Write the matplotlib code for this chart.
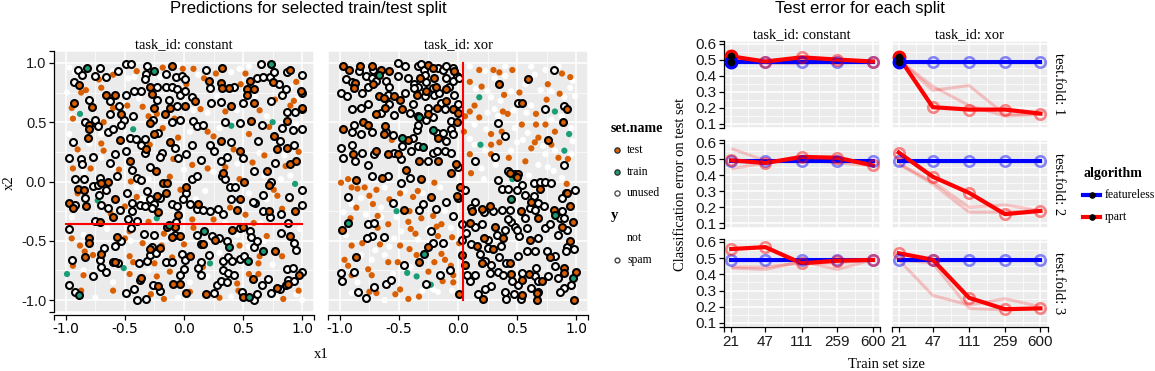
import math
import matplotlib
matplotlib.use("Agg")
import matplotlib.pyplot as plt

W, H = 1155, 371
fig = plt.figure(figsize=(W / 100, H / 100), dpi=100)
SERIF = ['Liberation Serif', 'DejaVu Serif']
SANS = ['Liberation Sans', 'DejaVu Sans']

# ---------------- right chart data ----------------
train_sizes = [21, 47, 111, 259, 600]
featureless_err = [0.487, 0.487, 0.487, 0.487, 0.487]

rpart_constant_f1 = [0.522, 0.490, 0.516, 0.502, 0.490]
rpart_constant_f1_a = [0.490, 0.480, 0.478, 0.485, 0.490]
rpart_constant_f1_b = [0.500, 0.487, 0.490, 0.480, 0.490]
rpart_constant_f2 = [0.492, 0.475, 0.513, 0.508, 0.460]
rpart_constant_f2_a = [0.565, 0.490, 0.490, 0.490, 0.470]
rpart_constant_f2_b = [0.440, 0.475, 0.500, 0.475, 0.460]
rpart_constant_f3 = [0.556, 0.568, 0.468, 0.484, 0.489]
rpart_constant_f3_a = [0.440, 0.430, 0.480, 0.430, 0.490]
rpart_constant_f3_b = [0.445, 0.445, 0.470, 0.470, 0.490]

rpart_xor_f1 = [0.518, 0.205, 0.190, 0.190, 0.165]
rpart_xor_f1_a = [0.500, 0.310, 0.340, 0.160, 0.163]
rpart_xor_f1_b = [0.500, 0.335, 0.215, 0.150, 0.160]
rpart_xor_f2 = [0.540, 0.390, 0.290, 0.158, 0.178]
rpart_xor_f2_a = [0.470, 0.360, 0.200, 0.215, 0.180]
rpart_xor_f2_b = [0.470, 0.345, 0.170, 0.170, 0.180]
rpart_xor_f3 = [0.530, 0.490, 0.255, 0.185, 0.190]
rpart_xor_f3_a = [0.490, 0.270, 0.210, 0.250, 0.200]
rpart_xor_f3_b = [0.490, 0.470, 0.190, 0.180, 0.190]

selected_size = 21
selected_rpart_constant = 0.524
selected_rpart_xor = 0.520

# ---------------- left chart data: (x1, x2) per set.name / y ----------------
const_spam_unused = [
    (-0.90, 0.94), (-0.86, 0.90), (-0.71, 0.96), (-0.56, 0.93), (-0.49, 0.99), (-0.45, 0.99), (-0.31, 0.97),
    (-0.32, 0.91), (0.19, 0.94), (0.65, 0.99), (0.73, 0.88), (0.76, 0.92), (0.87, 0.92), (1.00, 0.90),
    (-0.93, 0.84), (-0.75, 0.89), (-0.66, 0.88), (-0.33, 0.86), (-0.15, 0.91), (-0.07, 0.88), (-0.02, 0.89),
    (0.01, 0.86), (0.22, 0.79), (0.42, 0.80), (0.62, 0.87), (0.67, 0.88), (0.80, 0.82),
    (-0.80, 0.69), (-0.63, 0.68), (-0.55, 0.64), (-0.49, 0.73), (-0.42, 0.76), (-0.36, 0.76), (-0.23, 0.80),
    (-0.23, 0.69), (-0.15, 0.80), (-0.10, 0.80), (-0.06, 0.78), (-0.03, 0.73), (0.01, 0.76), (0.07, 0.71),
    (-0.13, 0.69), (-0.06, 0.64), (0.23, 0.66), (0.31, 0.67), (0.50, 0.66), (0.74, 0.68), (0.83, 0.73),
    (0.86, 0.78), (1.00, 0.75),
    (-0.84, 0.50), (-0.75, 0.52), (-0.73, 0.47), (-0.63, 0.57), (-0.51, 0.52), (-0.53, 0.48), (-0.43, 0.55),
    (-0.26, 0.52), (-0.10, 0.50), (-0.03, 0.52), (0.08, 0.51), (0.11, 0.47), (0.16, 0.48), (0.35, 0.50),
    (0.47, 0.49), (0.66, 0.48), (0.87, 0.59), (0.94, 0.59), (1.00, 0.61), (0.83, 0.45), (0.92, 0.43),
    (-0.94, 0.33), (-0.64, 0.42), (-0.60, 0.44), (-0.46, 0.37), (-0.41, 0.36), (-0.33, 0.36), (-0.22, 0.41),
    (-0.36, 0.31), (-0.33, 0.24), (-0.58, 0.23), (-0.49, 0.26), (-0.19, 0.24), (-0.08, 0.28), (0.02, 0.23),
    (0.07, 0.31), (0.22, 0.31), (0.25, 0.26), (0.40, 0.33), (0.50, 0.20), (0.63, 0.34), (0.81, 0.34),
    (0.93, 0.31), (1.00, 0.44),
    (-0.97, 0.20), (-0.87, 0.19), (-0.77, 0.21), (-0.86, 0.15), (-0.63, 0.16), (-0.44, 0.10), (-0.20, 0.21),
    (-0.29, 0.12), (-0.05, 0.20), (0.14, 0.18), (0.31, 0.17), (0.36, 0.21), (0.59, 0.09), (0.77, 0.16),
    (-0.92, 0.02), (-0.85, 0.02), (-0.84, -0.14), (-0.77, -0.04), (-0.73, -0.03), (-0.71, 0.03), (-0.72, -0.11),
    (-0.66, -0.07), (-0.57, 0.05), (-0.48, -0.10), (-0.40, 0.03), (-0.36, 0.01), (-0.31, -0.08), (-0.29, -0.15),
    (-0.20, -0.14), (-0.25, -0.19), (0.02, -0.10), (0.07, 0.02), (0.11, 0.05), (0.32, 0.05), (0.35, 0.02),
    (0.39, -0.05), (0.43, -0.05), (0.60, -0.18), (0.67, -0.11), (0.74, 0.00), (1.00, -0.07), (0.89, -0.13),
    (1.00, -0.20),
    (-0.92, -0.20), (-0.70, -0.20), (-0.64, -0.22), (-0.54, -0.24), (-0.44, -0.18), (-0.44, -0.25), (-0.37, -0.20),
    (-0.33, -0.21), (-0.27, -0.22), (-0.10, -0.19), (-0.06, -0.21), (-0.01, -0.15), (0.05, -0.19), (0.11, -0.23),
    (0.16, -0.24), (0.22, -0.25), (0.29, -0.23), (0.33, -0.27), (0.40, -0.15), (0.58, -0.17), (0.67, -0.25),
    (0.73, -0.30), (0.82, -0.27), (-0.75, -0.33), (-0.47, -0.32), (-0.40, -0.33), (-0.07, -0.34), (0.88, -0.35),
    (-0.97, -0.40), (-0.68, -0.56), (-0.58, -0.54), (-0.53, -0.50), (-0.45, -0.39), (-0.34, -0.44), (-0.27, -0.55),
    (-0.25, -0.45), (-0.08, -0.45), (0.11, -0.45), (0.14, -0.53), (0.24, -0.46), (0.30, -0.48), (0.36, -0.50),
    (0.47, -0.39), (0.56, -0.42), (0.57, -0.47), (0.59, -0.55), (0.62, -0.50), (0.82, -0.43), (0.93, -0.52),
    (0.95, -0.58),
    (-0.95, -0.66), (-0.71, -0.66), (-0.60, -0.68), (-0.38, -0.69), (-0.31, -0.67), (-0.29, -0.62), (-0.24, -0.60),
    (-0.15, -0.68), (-0.10, -0.68), (-0.02, -0.61), (0.01, -0.66), (0.14, -0.68), (0.21, -0.62), (0.33, -0.67),
    (0.37, -0.64), (0.41, -0.67), (0.47, -0.65), (0.51, -0.63), (0.87, -0.74), (0.92, -0.73),
    (-0.97, -0.87), (-0.92, -0.93), (-0.77, -0.80), (-0.70, -0.72), (-0.66, -0.76), (-0.56, -0.69), (-0.49, -0.94),
    (-0.42, -0.91), (-0.40, -1.00), (-0.32, -0.99), (-0.37, -0.83), (-0.26, -0.87), (-0.20, -0.92), (-0.03, -0.79),
    (0.00, -0.74), (0.12, -0.73), (0.14, -0.79), (0.25, -0.94), (0.28, -0.87), (0.31, -0.84), (0.33, -0.75),
    (0.37, -0.77), (0.42, -0.79), (0.36, -0.85), (0.49, -0.93), (0.59, -1.00), (0.62, -0.95), (0.66, -0.87),
    (0.71, -0.82), (0.74, -0.94), (0.81, -0.91), (0.88, -0.83), (0.86, -0.87), (0.93, -0.84), (1.00, -0.76),
]
const_spam_test = [
    (-0.10, 0.97), (0.32, 0.96), (0.90, 0.94), (-0.89, 0.81), (0.21, 0.85), (0.31, 0.83), (0.32, 0.79),
    (0.38, 0.79), (0.53, 0.78), (0.56, 0.85), (0.59, 0.78), (0.75, 0.84), (0.99, 0.76),
    (-0.78, 0.63), (-0.66, 0.73), (-0.58, 0.73), (-0.29, 0.80), (-0.27, 0.74), (-0.25, 0.62), (0.09, 0.68),
    (-0.12, 0.62), (0.01, 0.64), (0.40, 0.64), (0.53, 0.73), (0.59, 0.66), (1.00, 0.62), (-0.93, 0.66),
    (-0.80, 0.48), (-0.80, 0.44), (-0.53, 0.57), (-0.29, 0.49), (-0.16, 0.57), (0.57, 0.51), (0.87, 0.51),
    (-0.81, 0.37), (-0.54, 0.35), (-0.25, 0.40), (-0.32, 0.27), (-0.12, 0.33), (0.31, 0.34), (0.47, 0.26),
    (0.76, 0.38), (0.79, 0.27), (0.87, 0.28),
    (-0.46, 0.17), (-0.24, 0.09), (0.33, 0.07), (0.70, 0.09), (0.90, 0.15), (0.95, 0.17),
    (-0.90, -0.06), (-0.85, -0.07), (-0.70, -0.01), (-0.64, 0.00), (-0.23, -0.12), (-0.15, -0.10), (-0.18, -0.01),
    (-0.14, -0.01), (0.02, -0.05), (0.51, 0.00), (0.47, -0.15), (0.72, -0.03),
    (-0.97, -0.18), (-0.94, -0.22), (-0.83, -0.21), (-0.58, -0.15), (-0.22, -0.26), (0.12, -0.19), (0.45, -0.24),
    (0.72, -0.25), (0.94, -0.25), (-0.60, -0.30), (-0.71, -0.34), (-0.05, -0.28),
    (-0.80, -0.48), (-0.80, -0.52), (-0.57, -0.47), (-0.58, -0.68), (-0.29, -0.57), (-0.14, -0.38), (-0.10, -0.47),
    (-0.03, -0.46), (-0.08, -0.38), (0.16, -0.53), (0.26, -0.49), (0.41, -0.41), (0.50, -0.38), (0.90, -0.46),
    (-0.84, -0.64), (-0.70, -0.61), (-0.20, -0.56), (0.05, -0.63), (0.77, -0.59),
    (-0.36, -0.81), (-0.22, -0.88), (-0.09, -0.86), (-0.03, -0.86), (0.02, -0.94), (0.19, -0.95), (0.50, -0.97),
    (0.58, -0.82), (0.79, -0.90), (0.88, -0.86), (0.97, -0.79),
]
const_spam_train = [
    (-0.82, 0.96), (-0.25, 0.93), (0.74, 0.99), (-0.13, -0.37), (0.17, -0.42), (0.38, -0.55), (0.54, -0.67),
    (0.67, -0.59), (-0.89, -0.96), (0.55, -0.97),
]
const_not_train = [
    (-0.88, 0.57), (-0.43, 0.44), (0.40, 0.47), (0.75, 0.50), (0.94, -0.02), (-0.73, -0.16), (-0.23, -0.31),
    (0.22, -0.69), (-0.99, -0.78), (-0.51, -0.73),
]
const_not_test = [
    (-0.18, 0.96), (-0.01, 0.95), (0.08, 0.95), (-0.72, 0.86), (0.17, 0.87), (0.48, 0.82), (-0.87, 0.75),
    (-0.83, 0.77), (-0.70, 0.79), (-0.48, 0.64), (0.77, 0.69), (0.90, 0.64), (-0.94, 0.53), (-0.30, 0.55),
    (-0.23, 0.57), (-0.08, 0.53), (0.25, 0.38), (-0.68, 0.26), (-0.29, 0.31), (-0.94, 0.11), (-0.79, 0.11),
    (-0.09, 0.19), (0.07, 0.14), (0.35, 0.12), (0.86, 0.13),
    (-0.90, -0.10), (-0.45, 0.00), (-0.40, -0.13), (-0.03, -0.07), (0.47, 0.02), (0.76, -0.07), (0.79, -0.12),
    (-0.50, -0.21), (0.39, -0.22), (0.83, -0.23), (0.07, -0.32), (0.59, -0.35), (-0.88, -0.54), (-0.84, -0.59),
    (-0.50, -0.48), (-0.46, -0.42), (-0.19, -0.54), (-0.17, -0.44), (0.00, -0.53), (0.47, -0.54), (0.64, -0.63),
    (-0.77, -0.62), (-0.46, -0.63), (-0.43, -0.68), (-0.25, -0.69), (-0.10, -0.64), (0.63, -0.69), (0.83, -0.63),
    (-0.94, -0.71), (-0.85, -0.79), (-0.87, -0.92), (-0.46, -0.78), (-0.23, -0.80), (-0.17, -0.99), (0.05, -0.93),
    (0.16, -0.72), (0.45, -0.86), (0.46, -0.92), (0.63, -0.78),
    (-0.60, 0.90), (-0.40, 0.93), (0.02, 0.82), (0.27, 0.91), (0.52, 0.91), (0.95, 0.84), (-0.95, 0.62),
    (-0.60, 0.62), (-0.35, 0.63), (0.14, 0.61), (0.35, 0.59), (0.64, 0.60), (0.93, 0.68), (-0.68, 0.50),
    (-0.18, 0.45), (0.20, 0.42), (0.55, 0.40), (0.72, 0.46), (-0.90, 0.27), (-0.70, 0.32), (-0.05, 0.37),
    (0.42, 0.27), (0.68, 0.22), (0.97, 0.25), (-0.55, 0.10), (-0.12, 0.04), (0.20, 0.11), (0.58, 0.16),
    (-0.62, -0.27), (-0.30, -0.34), (0.25, -0.32), (0.52, -0.28), (0.90, -0.15), (-0.95, -0.48), (-0.35, -0.52),
    (0.08, -0.39), (0.70, -0.46), (-0.60, -0.92), (-0.12, -0.76), (0.30, -0.98), (0.84, -0.99), (0.97, -0.92),
    (0.55, -0.78), (-0.28, -0.95),
]
const_not_unused = [
    (-0.97, 0.96), (-0.47, 0.87), (-0.42, 0.88), (0.47, 0.95), (-0.99, 0.75), (0.64, 0.24), (1.00, -1.00),
    (-0.95, 0.55), (-0.60, 0.93), (-0.38, 0.70), (-0.05, 0.98), (0.12, 0.90), (0.40, 0.92), (0.55, 0.97),
    (0.90, 0.80), (0.96, 0.70), (-0.97, 0.40), (-0.70, 0.40), (-0.50, 0.30), (-0.13, 0.35), (0.05, 0.42),
    (0.20, 0.58), (0.45, 0.60), (0.70, 0.55), (0.95, 0.48), (-0.85, 0.08), (-0.60, 0.12), (-0.30, 0.02),
    (0.00, 0.10), (0.25, 0.08), (0.45, 0.15), (0.68, 0.05), (0.85, 0.22), (-0.95, -0.30), (-0.65, -0.40),
    (-0.35, -0.15), (-0.10, -0.35), (0.18, -0.08), (0.35, -0.35), (0.65, -0.35), (0.98, -0.40), (-0.85, -0.75),
    (-0.60, -0.85), (-0.30, -0.75), (0.05, -0.85), (0.30, -0.60), (0.55, -0.55), (0.75, -0.70), (0.95, -0.95),
    (-0.75, -0.98), (-0.05, -0.98), (0.40, -0.97), (0.78, -0.98), (0.82, 0.02), (-0.52, 0.65), (0.30, 0.45),
    (-0.20, -0.62), (0.60, 0.10), (-0.45, -0.50), (0.08, 0.60), (-0.80, 0.32), (0.70, -0.15), (-0.15, 0.55),
    (-0.92, 0.92), (-0.20, 0.88), (0.28, 0.72), (0.60, 0.72), (-0.70, 0.20), (-0.40, -0.05), (0.10, -0.15),
    (0.55, -0.10), (-0.85, -0.45), (0.20, -0.80), (0.68, -0.50), (0.90, 0.05), (-0.05, 0.30), (0.45, -0.45),
]

xor_spam_unused = [
    (-0.84, 0.93), (-0.72, 0.94), (-0.51, 1.00), (-0.45, 0.97), (-0.34, 0.97), (-0.31, 0.99), (-0.29, 0.94),
    (-0.17, 0.96), (-0.13, 0.94), (-0.10, 0.97), (-0.04, 0.96), (-0.01, 0.89), (-0.95, 0.86), (-0.90, 0.84),
    (-0.78, 0.89), (-0.73, 0.87), (-0.69, 0.85), (-0.61, 0.85), (-0.58, 0.80), (-0.51, 0.89), (-0.42, 0.87),
    (-0.37, 0.82), (-0.34, 0.80), (-0.28, 0.90), (-0.27, 0.84), (-0.10, 0.87), (-0.08, 0.80), (-0.04, 0.85),
    (0.01, 0.87), (-0.99, 0.75), (-0.94, 0.72), (-0.81, 0.75), (-0.76, 0.80), (-0.59, 0.73), (-0.58, 0.65),
    (-0.45, 0.75), (-0.37, 0.79), (-0.28, 0.72), (-0.21, 0.79), (-0.20, 0.73), (-0.16, 0.75), (-0.03, 0.73),
    (-0.90, 0.61), (-0.82, 0.62), (-0.76, 0.65), (-0.65, 0.58), (-0.54, 0.56), (-0.41, 0.58), (-0.38, 0.65),
    (-0.25, 0.62), (-0.21, 0.54), (-0.14, 0.66), (-0.11, 0.61), (0.00, 0.65), (-0.06, 0.51),
    (-0.90, 0.42), (-0.88, 0.48), (-0.82, 0.40), (-0.73, 0.42), (-0.61, 0.42), (-0.55, 0.39), (-0.38, 0.37),
    (-0.35, 0.43), (-0.34, 0.48), (-0.27, 0.52), (-0.18, 0.41), (-0.13, 0.41), (-0.10, 0.34), (-0.06, 0.44),
    (-0.04, 0.40), (-0.99, 0.28), (-0.97, 0.20), (-0.90, 0.31), (-0.87, 0.17), (-0.81, 0.24), (-0.76, 0.14),
    (-0.71, 0.23), (-0.54, 0.24), (-0.48, 0.19), (-0.47, 0.30), (-0.40, 0.26), (-0.34, 0.30), (-0.25, 0.17),
    (-0.21, 0.24), (-0.18, 0.26), (-0.11, 0.26), (-0.06, 0.24), (0.00, 0.12),
    (0.81, 0.94), (0.51, 0.66), (0.74, 0.61), (0.90, 0.64), (0.34, 0.49), (0.40, 0.38), (0.14, 0.17),
    (0.31, 0.21), (0.42, 0.09), (0.48, 0.06), (0.90, 0.14),
    (-0.73, 0.05), (-0.59, 0.05), (-0.48, -0.01), (-0.41, 0.03), (-0.10, -0.17), (-0.93, -0.13), (-0.55, -0.18),
    (-0.33, -0.24), (-0.30, -0.19), (-0.19, -0.23), (-0.04, -0.29), (-0.76, -0.36), (-0.71, -0.35), (-0.73, -0.46),
    (-0.77, -0.48), (-0.63, -0.47), (-0.23, -0.42), (-0.13, -0.52), (-0.21, -0.52), (-0.46, -0.70), (-0.15, -0.79),
    (-0.99, -0.77), (-0.88, -0.76), (-0.98, -0.84), (-0.07, -0.75), (-0.27, -0.86), (-0.85, -0.93), (-0.71, -0.89),
    (-0.61, -0.86), (-0.57, -0.83), (-0.78, -0.98),
    (0.34, 0.01), (0.54, -0.03), (0.64, -0.01), (0.69, 0.00), (0.74, 0.00), (0.79, -0.01), (0.99, -0.07),
    (0.91, -0.10), (0.88, -0.14), (0.37, -0.06), (0.42, -0.06), (0.50, -0.07), (0.57, -0.11), (0.64, -0.12),
    (0.68, -0.18), (0.06, -0.07), (0.14, -0.17), (0.11, -0.22), (0.22, -0.26), (0.30, -0.25), (0.37, -0.24),
    (0.44, -0.24), (0.61, -0.22), (0.65, -0.24), (0.73, -0.21), (0.86, -0.31), (0.88, -0.25), (0.90, -0.31),
    (0.03, -0.36), (0.14, -0.38), (0.07, -0.43), (0.20, -0.36), (0.25, -0.49), (0.33, -0.45), (0.40, -0.41),
    (0.45, -0.34), (0.48, -0.38), (0.42, -0.32), (0.57, -0.31), (0.58, -0.39), (0.52, -0.46), (0.50, -0.41),
    (0.68, -0.48), (0.74, -0.39), (0.78, -0.36), (0.85, -0.45), (0.92, -0.41), (0.92, -0.55), (0.11, -0.53),
    (0.25, -0.56), (0.36, -0.54), (0.19, -0.61), (0.35, -0.64), (0.41, -0.69), (0.51, -0.63), (0.58, -0.59),
    (0.65, -0.59), (0.75, -0.59), (0.82, -0.63), (0.91, -0.59), (0.98, -0.57), (0.66, -0.73), (0.82, -0.71),
    (0.23, -0.67), (0.28, -0.70), (0.27, -0.77), (0.34, -0.76), (0.38, -0.79), (0.46, -0.84), (0.54, -0.77),
    (0.65, -0.80), (0.68, -0.84), (0.76, -0.80), (0.85, -0.81), (0.96, -0.87), (0.90, -0.90), (0.86, -0.93),
    (0.68, -0.93), (0.62, -0.90), (0.51, -0.87), (0.47, -0.95), (0.40, -0.93), (0.28, -0.88), (0.23, -0.91),
    (0.17, -0.95), (0.41, -0.99), (0.53, -0.99), (0.10, -0.84), (0.14, -0.79), (0.03, -0.49), (0.08, -0.79),
    (0.00, -0.14),
]
xor_spam_test = [
    (-0.97, 0.97), (-0.92, 0.94), (-0.83, 0.97), (-0.73, 0.97), (-0.65, 0.94), (-0.58, 0.93), (-0.25, 0.98),
    (-0.21, 0.96), (-0.03, 0.93), (-0.87, 0.83), (-0.72, 0.82), (-0.32, 0.87), (-0.20, 0.87), (-0.19, 0.80),
    (-0.88, 0.79), (-0.67, 0.72), (-0.63, 0.70), (-0.54, 0.72), (-0.49, 0.69), (-0.35, 0.73), (-0.27, 0.76),
    (-0.10, 0.78), (-0.69, 0.57), (-0.62, 0.62), (-0.47, 0.61), (-0.34, 0.55), (-0.25, 0.57), (-0.18, 0.62),
    (-0.10, 0.68), (-0.04, 0.61), (0.00, 0.58), (-0.97, 0.44), (-0.80, 0.50), (-0.76, 0.48), (-0.62, 0.47),
    (-0.63, 0.40), (-0.42, 0.35), (-0.17, 0.37), (-0.01, 0.50), (-0.89, 0.23), (-0.69, 0.26), (-0.59, 0.23),
    (-0.51, 0.23), (-0.33, 0.17), (-0.17, 0.17), (-0.02, 0.15), (-0.06, 0.07), (-0.44, 0.10),
    (0.35, 0.82), (0.59, 0.86), (0.54, 0.66), (0.92, 0.61), (0.76, 0.35), (0.89, 0.50), (0.44, 0.07),
    (0.51, 0.06),
    (-0.86, 0.01), (-0.64, 0.03), (-0.31, 0.02), (-0.23, -0.13), (-0.46, -0.24), (-0.98, -0.41), (-0.25, -0.55),
    (-0.86, -0.64), (-0.33, -0.68),
    (0.50, 0.04), (0.69, -0.06), (0.92, -0.10), (0.62, -0.17), (0.02, -0.05), (0.12, -0.25), (0.20, -0.23),
    (0.27, -0.21), (0.53, -0.25), (0.68, -0.31), (0.81, -0.24), (0.95, -0.21), (0.97, -0.34), (0.10, -0.35),
    (0.22, -0.48), (0.31, -0.38), (0.38, -0.48), (0.61, -0.49), (0.88, -0.38), (0.95, -0.50), (0.16, -0.54),
    (0.30, -0.57), (0.44, -0.69), (0.78, -0.64), (0.90, -0.73), (0.20, -0.69), (0.45, -0.78), (0.54, -0.83),
    (0.60, -0.78), (0.71, -0.84), (0.90, -0.77), (1.00, -0.76), (0.67, -0.94), (0.54, -0.96), (0.21, -0.99),
    (0.67, -1.00), (0.98, -1.00), (0.03, -0.62), (0.06, -0.70), (0.01, -0.95), (-0.01, -0.12),
]
xor_spam_train = [
    (-0.67, 0.90), (-0.33, 0.54), (-0.47, 0.37), (-0.21, 0.43), (-0.30, 0.29), (-0.93, -0.35), (-0.29, -0.61),
    (0.45, -0.15), (0.82, -0.28), (0.97, -0.81),
]
xor_not_train = [
    (0.18, 0.71), (0.82, 0.59), (0.94, 0.40), (0.19, 0.31), (0.90, 0.26), (0.46, 0.02), (-0.52, -0.25),
    (-0.43, -0.77), (-0.35, -0.80), (-0.23, -0.87),
]
xor_not_test = [
    (-0.56, 0.35),
    (0.10, 0.84), (0.18, 0.94), (0.35, 0.92), (0.46, 0.94), (0.30, 0.94), (0.88, 0.91), (0.95, 0.88),
    (0.20, 0.80), (0.39, 0.73), (0.52, 0.75), (0.76, 0.82), (0.86, 0.74), (0.75, 0.69), (0.10, 0.59),
    (0.06, 0.55), (0.14, 0.64), (0.38, 0.59), (0.42, 0.57), (0.66, 0.57), (0.18, 0.54), (0.05, 0.42),
    (0.28, 0.40), (0.37, 0.42), (0.54, 0.48), (0.66, 0.48), (0.74, 0.48), (0.82, 0.42), (0.28, 0.31),
    (0.35, 0.33), (0.65, 0.33), (0.62, 0.28), (0.68, 0.37), (0.79, 0.31), (0.10, 0.23), (0.28, 0.23),
    (0.43, 0.20), (0.57, 0.17), (0.85, 0.20), (0.93, 0.19), (0.11, 0.07),
    (-0.99, -0.01), (-0.93, 0.02), (-0.20, -0.01), (-0.90, -0.05), (-0.85, -0.06), (-0.79, -0.05), (-0.69, -0.07),
    (-0.49, -0.10), (-0.38, -0.13), (-0.75, -0.12), (-0.34, -0.08), (-0.58, -0.15), (-0.72, -0.19), (-0.86, -0.22),
    (-0.68, -0.29), (-0.41, -0.25), (-0.31, -0.31), (-0.21, -0.29), (-0.91, -0.31), (-0.68, -0.39), (-0.59, -0.36),
    (-0.42, -0.34), (-0.40, -0.40), (-0.36, -0.44), (-0.18, -0.38), (-0.14, -0.36), (-0.17, -0.46), (-0.05, -0.47),
    (-0.90, -0.54), (-0.81, -0.52), (-0.66, -0.53), (-0.49, -0.54), (-0.41, -0.57), (-0.35, -0.62), (-0.14, -0.61),
    (-0.96, -0.66), (-0.93, -0.71), (-0.59, -0.68), (-0.51, -0.68), (-0.20, -0.68), (-0.11, -0.66), (-0.06, -0.71),
    (-0.90, -0.79), (-0.76, -0.74), (-0.73, -0.79), (-0.04, -0.79), (-0.25, -0.76), (-0.13, -0.84), (-0.04, -0.85),
    (-0.53, -0.95), (-0.75, -0.93), (-0.69, -0.94), (-0.42, -0.99), (-0.33, -0.97), (-0.49, -0.91), (0.01, -0.52),
    (0.92, -0.02),
]
xor_not_unused = [
    (0.03, 0.90), (0.23, 0.93), (0.31, 0.87), (0.40, 0.89), (0.65, 0.90), (0.74, 0.94), (0.97, 0.85),
    (0.25, 0.76), (0.28, 0.71), (0.45, 0.76), (0.57, 0.82), (0.79, 0.76), (0.90, 0.71), (0.95, 0.79),
    (0.99, 0.72), (0.31, 0.61), (0.34, 0.55), (0.58, 0.58), (0.79, 0.52), (0.14, 0.48), (0.24, 0.44),
    (0.48, 0.45), (0.59, 0.41), (0.96, 0.45), (0.14, 0.31), (0.50, 0.33), (0.97, 0.34), (0.82, 0.26),
    (0.23, 0.26), (0.20, 0.11), (0.74, 0.23), (0.68, 0.14), (0.81, 0.09),
    (0.10, 0.97), (0.40, 0.97), (0.62, 0.97), (0.85, 0.97), (0.15, 0.78), (0.36, 0.68), (0.62, 0.64),
    (0.70, 0.77), (0.47, 0.60), (0.88, 0.55), (0.10, 0.36), (0.45, 0.26), (0.72, 0.30), (0.96, 0.23),
    (0.32, 0.14), (0.60, 0.05), (0.76, 0.12), (0.22, 0.02), (0.88, 0.03), (0.55, 0.35), (0.25, 0.58),
    (-0.62, -0.05), (-0.82, -0.14), (-0.45, -0.08), (-0.90, -0.19), (-0.11, -0.25), (-0.65, -0.22), (-0.97, -0.26),
    (-0.54, -0.48), (-0.48, -0.42), (-0.34, -0.49), (-0.06, -0.39), (-0.58, -0.55), (-0.82, -0.62), (-0.73, -0.66),
    (-0.62, -0.62), (-0.21, -0.91), (-0.17, -0.93), (-0.90, -0.94), (-0.62, -1.00),
    (-0.95, -0.45), (-0.70, -0.58), (-0.40, -0.72), (-0.25, -0.40), (-0.10, -0.55), (-0.85, -0.85), (-0.55, -0.78),
    (-0.30, -0.92), (-0.05, -0.92), (-0.65, -0.30), (-0.30, -0.10), (-0.15, -0.05), (-0.52, -0.30), (-0.78, -0.28),
    (-0.28, -0.63),
]

const_split_x2 = -0.355
xor_split_x1 = 0.045

ORANGE = '#D95F02'
GREEN = '#1B9E77'


def px_axes(left, top, right, bottom):
    return fig.add_axes([left / W, (H - bottom) / H, (right - left) / W, (bottom - top) / H])


def ggstyle(ax, xt, xl, yt, yl, xminor, yminor, show_x, show_y, fs=10):
    ax.set_facecolor('#EBEBEB')
    for s in ax.spines.values():
        s.set_visible(False)
    ax.set_xticks(xt)
    ax.set_yticks(yt)
    ax.set_xticks(xminor, minor=True)
    ax.set_yticks(yminor, minor=True)
    ax.grid(which='major', color='white', lw=1.1, zorder=0)
    ax.grid(which='minor', color='white', lw=0.5, zorder=0)
    ax.set_axisbelow(True)
    ax.tick_params(which='minor', length=0)
    ax.tick_params(which='major', length=3.5, width=0.9, color='black', direction='out', pad=2)
    if show_x:
        ax.spines['bottom'].set_visible(True)
        ax.spines['bottom'].set_color('black')
        ax.spines['bottom'].set_linewidth(0.9)
        ax.set_xticklabels(xl, fontfamily=SANS, fontsize=fs, color='#1a1a1a')
    else:
        ax.tick_params(axis='x', which='major', length=0)
        ax.set_xticklabels([])
    if show_y:
        ax.spines['left'].set_visible(True)
        ax.spines['left'].set_color('black')
        ax.spines['left'].set_linewidth(0.9)
        ax.set_yticklabels(yl, fontfamily=SANS, fontsize=fs, color='#1a1a1a')
    else:
        ax.tick_params(axis='y', which='major', length=0)
        ax.set_yticklabels([])


def draw_pts(ax, pts, fill, ring):
    if not pts:
        return
    xs = [p[0] for p in pts]
    ys = [p[1] for p in pts]
    if ring:
        ax.scatter(xs, ys, s=25, facecolor=fill, edgecolor='black', linewidths=1.5, zorder=3)
    else:
        ax.scatter(xs, ys, s=20, facecolor=fill, edgecolor='none', zorder=3)


# ================= left chart =================
lim = 1.1
ticks = [-lim, -1.0, -0.5, 0.0, 0.5, 1.0, lim]
tlabels = ['', '-1.0', '-0.5', '0.0', '0.5', '1.0', '']
minor = [-0.75, -0.25, 0.25, 0.75]

panels = [
    ('constant', 54, 314, const_not_unused, const_not_test, const_not_train,
     const_spam_unused, const_spam_test, const_spam_train),
    ('xor', 328, 588, xor_not_unused, xor_not_test, xor_not_train,
     xor_spam_unused, xor_spam_test, xor_spam_train),
]
for i, (task, l, r, nu, nt, ntr, su, st, strn) in enumerate(panels):
    ax = px_axes(l, 51, r, 312)
    ax.set_xlim(-lim, lim)
    ax.set_ylim(-lim, lim)
    ggstyle(ax, ticks, tlabels, ticks, tlabels, minor, minor, True, i == 0, fs=10.5)
    ax.spines['bottom'].set_position(('outward', 2))
    draw_pts(ax, nu, 'white', False)
    draw_pts(ax, nt, ORANGE, False)
    draw_pts(ax, ntr, GREEN, False)
    draw_pts(ax, su, 'white', True)
    draw_pts(ax, st, ORANGE, True)
    draw_pts(ax, strn, GREEN, True)
    if task == 'constant':
        ax.plot([-1.0, 1.0], [const_split_x2, const_split_x2], color='red', lw=1.5, zorder=4)
    else:
        ax.plot([xor_split_x1, xor_split_x1], [-1.0, 1.0], color='red', lw=1.5, zorder=4)
    ax.set_title('task_id: ' + task, fontfamily=SERIF, fontsize=10.5, pad=1.5)

fig.text(308 / W, 1 - 9 / H, 'Predictions for selected train/test split', ha='center', va='center',
         fontfamily=SANS, fontsize=12)
fig.text(321 / W, 1 - 354 / H, 'x1', ha='center', va='center', fontfamily=SERIF, fontsize=10.5)
fig.text(9 / W, 1 - 183 / H, 'x2', ha='center', va='center', rotation=90, fontfamily=SERIF, fontsize=10.5)

# left legend
lg = fig.add_axes([0, 0, 1, 1], facecolor='none')
lg.set_xlim(0, W)
lg.set_ylim(H, 0)
lg.axis('off')
lg.text(611, 128, 'set.name', fontfamily=SERIF, fontweight='bold', fontsize=10, va='center')
for yy, lab, fc, ec in [(150, 'test', ORANGE, '#333333'), (172, 'train', GREEN, '#333333'),
                        (193, 'unused', 'white', '#555555')]:
    lg.scatter([617], [yy], s=14, facecolor=fc, edgecolor=ec, linewidths=1.0)
    lg.text(627, yy, lab, fontfamily=SERIF, fontsize=8.5, va='center')
lg.text(611, 215, 'y', fontfamily=SERIF, fontweight='bold', fontsize=10.5, va='center')
lg.text(627, 238, 'not', fontfamily=SERIF, fontsize=8.5, va='center')
lg.scatter([617], [260], s=12, facecolor='white', edgecolor='#444444', linewidths=1.0)
lg.text(627, 260, 'spam', fontfamily=SERIF, fontsize=8.5, va='center')

# ================= right chart =================
rx_lim = (10 ** 1.248, 10 ** 2.851)
ry_lim = (0.075, 0.618)
yt = [ry_lim[0], 0.1, 0.2, 0.3, 0.4, 0.5, 0.6, ry_lim[1]]
ytl = ['', '0.1', '0.2', '0.3', '0.4', '0.5', '0.6', '']
yminor = [0.15, 0.25, 0.35, 0.45, 0.55]
xt = [rx_lim[0]] + train_sizes + [rx_lim[1]]
xtl = [''] + [str(v) for v in train_sizes] + ['']
xminor = [math.sqrt(train_sizes[k] * train_sizes[k + 1]) for k in range(4)]

rows = [(41, 128), (140, 227.5), (239, 327)]
cols = [(724, 880), (891.5, 1047.5)]
data = {
    ('constant', 1): (rpart_constant_f1, rpart_constant_f1_a, rpart_constant_f1_b),
    ('constant', 2): (rpart_constant_f2, rpart_constant_f2_a, rpart_constant_f2_b),
    ('constant', 3): (rpart_constant_f3, rpart_constant_f3_a, rpart_constant_f3_b),
    ('xor', 1): (rpart_xor_f1, rpart_xor_f1_a, rpart_xor_f1_b),
    ('xor', 2): (rpart_xor_f2, rpart_xor_f2_a, rpart_xor_f2_b),
    ('xor', 3): (rpart_xor_f3, rpart_xor_f3_a, rpart_xor_f3_b),
}
for ri, (t, b) in enumerate(rows):
    fold = ri + 1
    for ci, (l, r) in enumerate(cols):
        task = ['constant', 'xor'][ci]
        ax = px_axes(l, t, r, b)
        ax.set_xscale('log')
        ax.set_xlim(*rx_lim)
        ax.set_ylim(*ry_lim)
        ax.xaxis.set_minor_locator(matplotlib.ticker.NullLocator())
        ggstyle(ax, xt, xtl, yt, ytl, xminor, yminor, ri == 2, ci == 0, fs=11)
        bold, fa, fb = data[(task, fold)]
        for faint in (fa, fb):
            ax.plot(train_sizes, faint, color='red', alpha=0.2, lw=2.2, solid_capstyle='butt', zorder=2)
        ax.plot(train_sizes, featureless_err, color='blue', lw=3, zorder=3)
        ax.plot(train_sizes, bold, color='red', lw=3, zorder=3)
        ax.plot(train_sizes, featureless_err, 'o', ms=7.5, mfc='none', mec='blue', mew=1.9, alpha=0.45, zorder=4)
        ax.plot(train_sizes, bold, 'o', ms=7.5, mfc='none', mec='red', mew=1.9, alpha=0.45, zorder=4)
        if fold == 1:
            sel = selected_rpart_constant if task == 'constant' else selected_rpart_xor
            ax.plot([selected_size], [sel], 'o', ms=9, color='red', zorder=5)
            ax.plot([selected_size], [featureless_err[0]], 'o', ms=9, color='blue', zorder=5)
            ax.plot([selected_size], [sel], 'o', ms=4.5, color='black', zorder=6)
            ax.plot([selected_size], [featureless_err[0]], 'o', ms=4.5, color='black', zorder=6)
            ax.set_title('task_id: ' + task, fontfamily=SERIF, fontsize=10.5, pad=1.5)
        if ci == 1:
            ax.text(1.03, 0.5, 'test.fold: %d' % fold, transform=ax.transAxes, rotation=270,
                    ha='left', va='center', fontfamily=SERIF, fontsize=10.5)

fig.text(860 / W, 1 - 9 / H, 'Test error for each split', ha='center', va='center',
         fontfamily=SANS, fontsize=12)
fig.text(886 / W, 1 - 365 / H, 'Train set size', ha='center', va='center', fontfamily=SERIF, fontsize=10.5)
fig.text(681 / W, 1 - 184 / H, 'Classification error on test set', ha='center', va='center',
         rotation=90, fontfamily=SERIF, fontsize=10.5)

lg.text(1083, 174, 'algorithm', fontfamily=SERIF, fontweight='bold', fontsize=10, va='center')
for yy, lab, col in [(195, 'featureless', 'blue'), (217, 'rpart', 'red')]:
    lg.plot([1083, 1100], [yy, yy], color=col, lw=3)
    lg.scatter([1091.5], [yy], s=14, color='black', zorder=5)
    lg.text(1105, yy, lab, fontfamily=SERIF, fontsize=8.5, va='center')

fig.savefig('out.png', dpi=100)
